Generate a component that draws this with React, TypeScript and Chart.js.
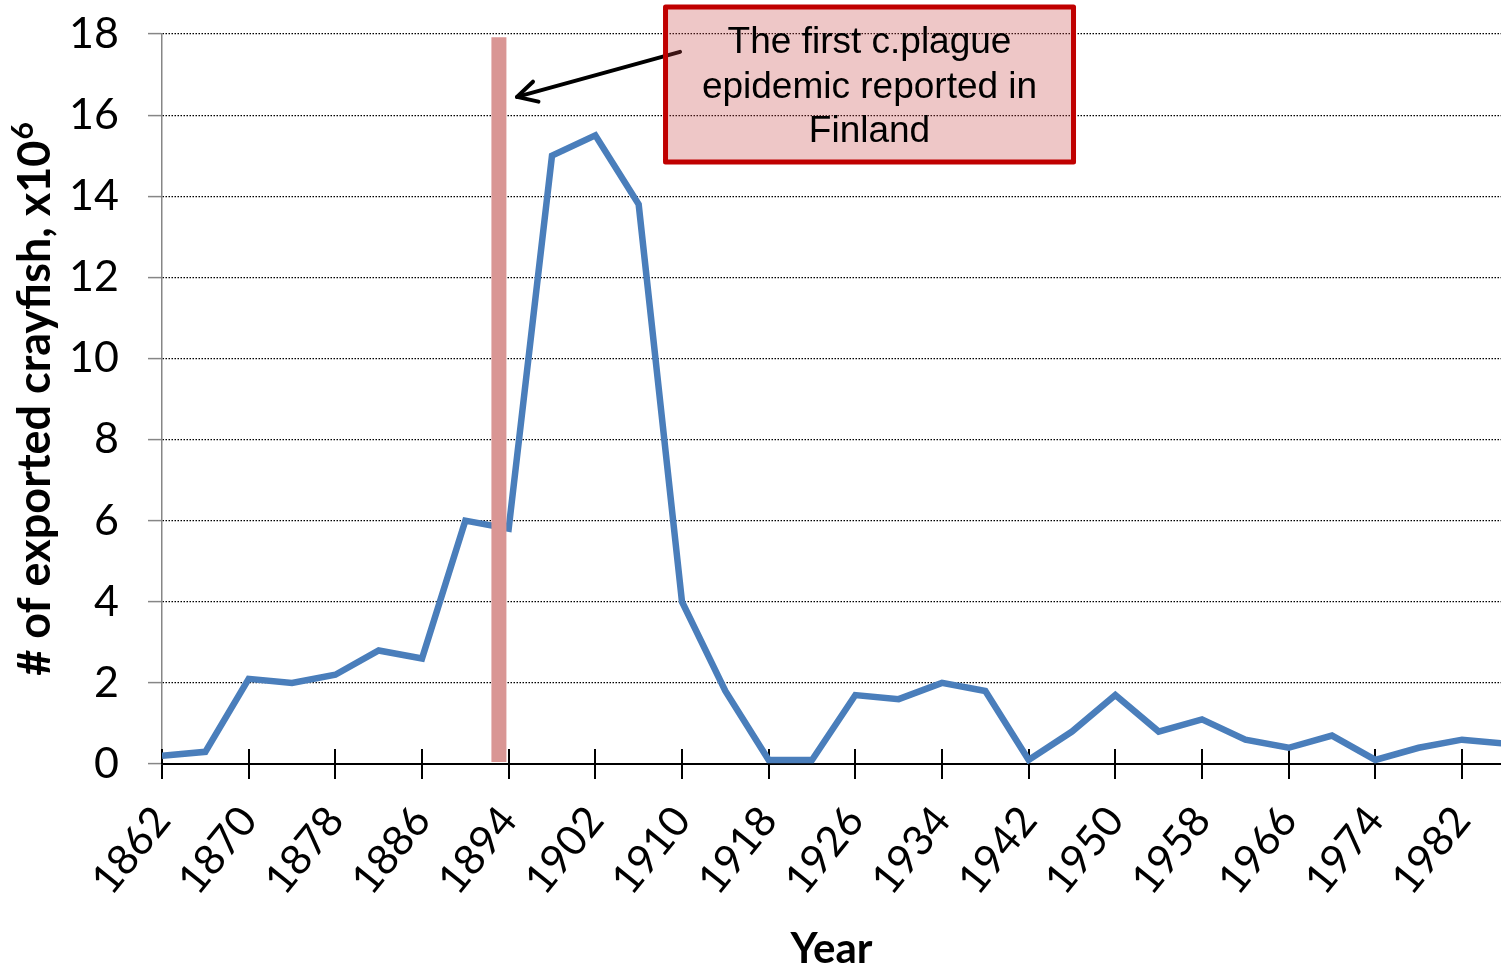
import React, { useEffect, useRef } from "react";
import { Chart, registerables } from "chart.js";

Chart.register(...registerables);

// ---- data ----
const YEARS = [
  1862, 1866, 1870, 1874, 1878, 1882, 1886, 1890, 1894, 1898, 1902, 1906, 1910, 1914, 1918, 1922,
  1926, 1930, 1934, 1938, 1942, 1946, 1950, 1954, 1958, 1962, 1966, 1970, 1974, 1978, 1982, 1986,
];
const EXPORTED = [
  0.2, 0.3, 2.1, 2.0, 2.2, 2.8, 2.6, 6.0, 5.8, 15.0, 15.5, 13.8, 4.0, 1.8, 0.1, 0.1,
  1.7, 1.6, 2.0, 1.8, 0.1, 0.8, 1.7, 0.8, 1.1, 0.6, 0.4, 0.7, 0.1, 0.4, 0.6, 0.5,
];
const TICK_YEARS = [1862, 1870, 1878, 1886, 1894, 1902, 1910, 1918, 1926, 1934, 1942, 1950, 1958, 1966, 1974, 1982];
const Y_MIN = 0;
const Y_MAX = 18;
const Y_STEP = 2;
const X_MIN = 1862;
const X_MAX = 1985.6;

// annotation (data coordinates)
const PLAGUE_YEAR = 1893.1;
const PLAGUE_TOP = 17.92;
const BOX_X0 = 1908.48;
const BOX_X1 = 1946.14;
const BOX_Y_TOP = 18.665;
const BOX_Y_BOTTOM = 14.843;
const ARROW_TAIL = [1909.82, 17.56];
const ARROW_TIP = [1894.77, 16.45];
const ANNOTATION_LINES = ["The first c.plague", "epidemic reported in", "Finland"];

const Y_TITLE_MAIN = "# of exported crayfish, x10";
const Y_TITLE_SUP = "6";
const X_TITLE = "Year";

const LINE_COLOR = "#4A7EBB";
const BAR_COLOR = "#D99694";

const overlayPlugin = {
  id: "overlay",
  beforeDatasetsDraw(chart: any) {
    const { ctx, chartArea, scales } = chart;
    const x = scales.x;
    ctx.save();
    ctx.strokeStyle = "#000";
    ctx.lineWidth = 2;
    for (const yr of TICK_YEARS) {
      const px = Math.round(x.getPixelForValue(yr));
      ctx.beginPath();
      ctx.moveTo(px, chartArea.bottom - 15);
      ctx.lineTo(px, chartArea.bottom);
      ctx.stroke();
    }
    ctx.restore();
  },
  afterDatasetsDraw(chart: any) {
    const { ctx, scales, chartArea } = chart;
    const x = scales.x;
    const y = scales.y;
    ctx.save();
    // vertical marker bar
    const bx = x.getPixelForValue(PLAGUE_YEAR);
    const bTop = y.getPixelForValue(PLAGUE_TOP);
    const bBot = y.getPixelForValue(0) - 2;
    ctx.fillStyle = BAR_COLOR;
    ctx.fillRect(bx - 7.5, bTop, 15, bBot - bTop);

    // arrow
    const tx = x.getPixelForValue(ARROW_TAIL[0]);
    const ty = y.getPixelForValue(ARROW_TAIL[1]);
    const hx = x.getPixelForValue(ARROW_TIP[0]);
    const hy = y.getPixelForValue(ARROW_TIP[1]);
    ctx.strokeStyle = "#000";
    ctx.lineWidth = 4;
    ctx.lineCap = "round";
    ctx.lineJoin = "round";
    ctx.beginPath();
    ctx.moveTo(tx, ty);
    ctx.lineTo(hx, hy);
    ctx.stroke();
    const ang = Math.atan2(ty - hy, tx - hx);
    const armLen = 22;
    const spread = (28 * Math.PI) / 180;
    ctx.beginPath();
    ctx.moveTo(hx + armLen * Math.cos(ang - spread), hy + armLen * Math.sin(ang - spread));
    ctx.lineTo(hx, hy);
    ctx.lineTo(hx + armLen * Math.cos(ang + spread), hy + armLen * Math.sin(ang + spread));
    ctx.stroke();

    // annotation box
    const x0 = x.getPixelForValue(BOX_X0);
    const x1 = x.getPixelForValue(BOX_X1);
    const y0 = y.getPixelForValue(BOX_Y_TOP);
    const y1 = y.getPixelForValue(BOX_Y_BOTTOM);
    ctx.fillStyle = "rgba(200, 70, 70, 0.30)";
    ctx.fillRect(x0, y0, x1 - x0, y1 - y0);
    ctx.strokeStyle = "#C00000";
    ctx.lineWidth = 5;
    ctx.lineJoin = "round";
    ctx.strokeRect(x0, y0, x1 - x0, y1 - y0);

    ctx.fillStyle = "#000";
    ctx.font = '37px "Liberation Sans", Arial, sans-serif';
    ctx.textAlign = "center";
    ctx.textBaseline = "alphabetic";
    const cx = (x0 + x1) / 2;
    ANNOTATION_LINES.forEach((line, i) => {
      ctx.fillText(line, cx, y0 + 46 + i * 44.5);
    });

    // y axis title with superscript
    const mainFont = 'bold 45px "Lato"';
    const supFont = 'bold 30px "Lato"';
    ctx.font = mainFont;
    const w1 = ctx.measureText(Y_TITLE_MAIN).width;
    ctx.font = supFont;
    const w2 = ctx.measureText(Y_TITLE_SUP).width;
    const total = w1 + w2 + 1;
    const cy = (chartArea.top + chartArea.bottom) / 2;
    ctx.translate(50, cy);
    ctx.rotate(-Math.PI / 2);
    ctx.textAlign = "left";
    ctx.textBaseline = "alphabetic";
    ctx.font = mainFont;
    ctx.fillText(Y_TITLE_MAIN, -total / 2, 0);
    ctx.font = supFont;
    ctx.fillText(Y_TITLE_SUP, -total / 2 + w1 + 1, -17);
    ctx.restore();
  },
};

export default function App() {
  const canvasRef = useRef<HTMLCanvasElement | null>(null);

  useEffect(() => {
    const canvas = canvasRef.current;
    if (!canvas) return;
    const chart = new Chart(canvas, {
      type: "line",
      data: {
        datasets: [
          {
            label: "Exported crayfish",
            data: YEARS.map((yr, i) => ({ x: yr, y: EXPORTED[i] })),
            borderColor: LINE_COLOR,
            backgroundColor: LINE_COLOR,
            borderWidth: 6.5,
            pointRadius: 0,
            pointHoverRadius: 0,
            tension: 0,
            borderJoinStyle: "miter",
            fill: false,
          },
        ],
      },
      options: {
        responsive: false,
        animation: false,
        events: [],
        layout: { padding: { top: 34, left: 0, right: 0, bottom: 0 } },
        plugins: {
          legend: { display: false },
          tooltip: { enabled: false },
          title: { display: false },
        },
        scales: {
          x: {
            type: "linear",
            min: X_MIN,
            max: X_MAX,
            afterBuildTicks: (scale: any) => {
              scale.ticks = TICK_YEARS.map((v) => ({ value: v }));
            },
            afterFit: (scale: any) => {
              scale.height = 206;
              scale.paddingLeft = 0;
              scale.paddingRight = 0;
            },
            ticks: {
              autoSkip: false,
              minRotation: 51,
              maxRotation: 51,
              padding: 18,
              color: "#000",
              font: { family: "Lato", size: 42 },
              callback: (v: any) => String(v),
            },
            grid: {
              display: true,
              drawOnChartArea: false,
              drawTicks: true,
              tickLength: 15,
              color: "#000",
              lineWidth: 2,
            },
            border: { display: true, color: "#000", width: 2 },
            title: {
              display: true,
              text: X_TITLE,
              color: "#000",
              font: { family: "Lato", size: 42, weight: "bold", lineHeight: 1 },
              padding: { top: 0, bottom: 0 },
            },
          },
          y: {
            type: "linear",
            min: Y_MIN,
            max: Y_MAX,
            afterFit: (scale: any) => {
              scale.width = 162;
              scale.paddingTop = 0;
              scale.paddingBottom = 0;
            },
            ticks: {
              stepSize: Y_STEP,
              padding: 29,
              color: "#000",
              font: { family: "Lato", size: 43 },
            },
            grid: {
              display: true,
              drawOnChartArea: true,
              drawTicks: true,
              tickLength: 14,
              color: "#000",
              lineWidth: 1.2,
              tickColor: "#868686",
              tickWidth: 1.5,
              tickBorderDash: [100, 0],
            },
            border: { display: true, color: "#868686", width: 1.5, dash: [1.5, 1.5] },
            title: { display: false },
          },
        },
      },
      plugins: [overlayPlugin],
    } as any);
    return () => chart.destroy();
  }, []);

  return (
    <div style={{ position: "absolute", left: 0, top: 0, width: 1501, height: 970, background: "#fff" }}>
      <canvas ref={canvasRef} width={1501} height={970} style={{ display: "block" }} />
    </div>
  );
}
